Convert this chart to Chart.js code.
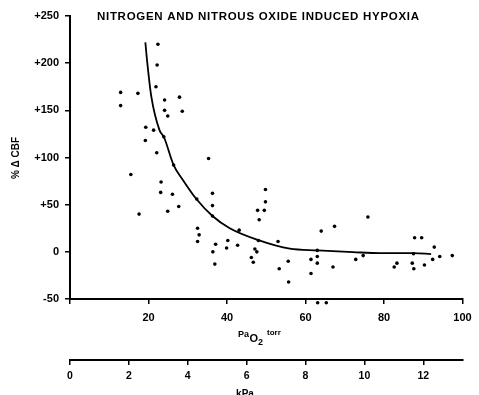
<!DOCTYPE html>
<html>
<head>
<meta charset="utf-8">
<script src="https://cdn.jsdelivr.net/npm/chart.js@4/dist/chart.umd.min.js"></script>
<style>
  html, body { margin: 0; padding: 0; background: #ffffff; }
  canvas { display: block; }
</style>
</head>
<body>
<canvas id="c" width="479" height="395"></canvas>
<script>
// ---- data ----
const titleText = "NITROGEN AND NITROUS OXIDE INDUCED HYPOXIA";
const yLabel = "% \u0394 CBF";

// PaO2 (torr) of each observation
const paO2 = [22.4, 22.2, 12.9, 17.3, 21.9, 24.1, 27.9, 12.9, 24.1, 28.6,
  24.9, 19.3, 21.3, 23.9, 19.2, 22.1, 35.3, 26.4, 15.5, 23.2,
  23.1, 26.1, 17.6, 24.9, 27.7, 32.3, 32.5, 32.9, 32.5, 36.3,
  36.3, 36.3, 49.8, 49.8, 47.8, 49.5, 48.2, 43.1, 40.2, 37.1,
  42.7, 48.0, 53.0, 39.9, 36.4, 47.1, 47.6, 46.2, 46.7, 36.9,
  64.0, 67.4, 61.4, 63.0, 63.0, 63.0, 53.3, 55.6, 55.7, 61.4,
  67.0, 63.1, 65.3, 75.9, 72.8, 74.7, 82.6, 83.3, 87.8, 89.6,
  87.5, 87.2, 87.6, 90.3, 92.8, 92.4, 94.2, 97.4];
// % change of cerebral blood flow of each observation
const dCBF = [220, 198, 169, 168, 175, 161, 164, 155, 150, 149,
  144, 132, 129, 122, 118, 105, 99, 92, 82, 74,
  63, 61, 40, 43, 48, 56, 25, 18, 11, 62,
  49, 38, 66, 53, 44, 44, 34, 23, 12, 8,
  7, 12, 11, 4, 0, 3, 0, -6, -11, -13,
  22, 27, -8, -5, 1.5, -12, -18, -10, -32, -23,
  -16, -54, -54, 37, -8, -4, -16, -12, 15, 15,
  -2, -12, -18, -14, 5, -8, -5, -4];

// fitted curve, points
const curveX = [19.2, 19.7, 20.7, 22.8, 23.9, 26.4, 28.8, 32.2, 36.3, 40.7, 48.0, 56.0, 63.1, 72.1, 79.0, 87.6, 92.0];
const curveY = [222, 200, 165, 129, 122, 92, 76, 56, 38, 25, 12.4, 3.3, 1.5, -0.3, -1.4, -1.4, -2.4];

// tick labels
const torrTicks = [0, 20, 40, 60, 80, 100];
const kPaTicks = [0, 2, 4, 6, 8, 10, 12];
const cbfTicks = [-50, 0, 50, 100, 150, 200, 250];
const torrPerKPa = 7.50062;

// ---- build chart ----
const FONT = '"Liberation Sans", Arial, sans-serif';
Chart.defaults.font.family = FONT;
Chart.defaults.font.weight = 'bold';
Chart.defaults.font.size = 11;
Chart.defaults.color = '#000';

const points = paO2.map((x, i) => ({ x: x, y: dCBF[i] }));
const curve = curveX.map((x, i) => ({ x: x, y: curveY[i] }));

const annot = {
  id: 'annot',
  beforeDraw(chart) {
    const ctx = chart.ctx;
    ctx.save();
    ctx.fillStyle = '#fff';
    ctx.fillRect(0, 0, chart.width, chart.height);
    ctx.restore();
  },
  afterDraw(chart) {
    const ctx = chart.ctx;
    ctx.save();
    ctx.fillStyle = '#000';
    // title
    ctx.font = 'bold 11.5px ' + FONT;
    ctx.textAlign = 'left';
    ctx.textBaseline = 'middle';
    if ('letterSpacing' in ctx) ctx.letterSpacing = '0.7px';
    ctx.fillText(titleText, 97, 17);
    if ('letterSpacing' in ctx) ctx.letterSpacing = '0px';
    // y label (rotated)
    ctx.save();
    ctx.translate(16, 158);
    ctx.rotate(-Math.PI / 2);
    ctx.textAlign = 'center';
    ctx.font = 'bold 10px ' + FONT;
    ctx.fillText(yLabel, 0, 0);
    ctx.restore();
    // x label  PaO2 torr
    ctx.textAlign = 'left';
    ctx.textBaseline = 'alphabetic';
    let x = 238;
    ctx.font = 'bold 9px ' + FONT;
    ctx.fillText('Pa', x, 337); x += ctx.measureText('Pa').width + 0.5;
    ctx.font = 'bold 11px ' + FONT;
    ctx.fillText('O', x, 342); x += ctx.measureText('O').width;
    ctx.font = 'bold 9px ' + FONT;
    ctx.fillText('2', x, 345); x += ctx.measureText('2').width + 4;
    ctx.font = 'bold 8px ' + FONT;
    ctx.fillText('torr', x, 335);
    // kPa label
    ctx.textAlign = 'center';
    ctx.font = 'bold 10px ' + FONT;
    ctx.fillText('kPa', 245, 397);
    ctx.restore();
  }
};

const axisGrid = { display: true, drawOnChartArea: false, drawTicks: true, tickLength: 5, color: '#000', lineWidth: 1.5 };
const axisBorder = { display: true, color: '#000', width: 2 };

new Chart(document.getElementById('c'), {
  type: 'scatter',
  data: {
    datasets: [
      {
        label: 'observations',
        data: points,
        pointRadius: 1.8,
        pointBackgroundColor: '#000',
        pointBorderColor: '#000',
        pointBorderWidth: 0,
        showLine: false,
        clip: false
      },
      {
        label: 'fit',
        data: curve,
        showLine: true,
        pointRadius: 0,
        borderColor: '#000',
        borderWidth: 1.8,
        cubicInterpolationMode: 'monotone',
        fill: false
      }
    ]
  },
  options: {
    responsive: false,
    animation: false,
    events: [],
    layout: { padding: { top: 16, right: 16.5, left: 0, bottom: 0 } },
    plugins: { legend: { display: false }, title: { display: false }, tooltip: { enabled: false } },
    scales: {
      x: {
        type: 'linear', position: 'bottom', weight: 0,
        min: 0, max: 100,
        grid: axisGrid, border: axisBorder,
        afterBuildTicks: (s) => { s.ticks = torrTicks.map(v => ({ value: v })); },
        ticks: { padding: 7, maxRotation: 0, autoSkip: false, font: { size: 11, weight: 'bold' },
                 callback: (v) => v === 0 ? '' : String(v) },
        afterFit: (s) => { s.height = 61; }
      },
      x2: {
        type: 'linear', position: 'bottom', weight: 1,
        min: 0, max: 100 / torrPerKPa,
        grid: axisGrid, border: axisBorder,
        afterBuildTicks: (s) => { s.ticks = kPaTicks.map(v => ({ value: v })); },
        ticks: { padding: 5, maxRotation: 0, autoSkip: false, font: { size: 10.5, weight: 'bold' } },
        afterFit: (s) => { s.height = 35; }
      },
      y: {
        type: 'linear', position: 'left',
        min: -50, max: 250,
        grid: axisGrid, border: axisBorder,
        afterBuildTicks: (s) => { s.ticks = cbfTicks.map(v => ({ value: v })); },
        ticks: { padding: 6, font: { size: 11, weight: 'bold' },
                 callback: (v) => v > 0 ? '+' + v : String(v) },
        afterFit: (s) => { s.width = 70; }
      }
    }
  },
  plugins: [annot]
});
</script>
</body>
</html>
